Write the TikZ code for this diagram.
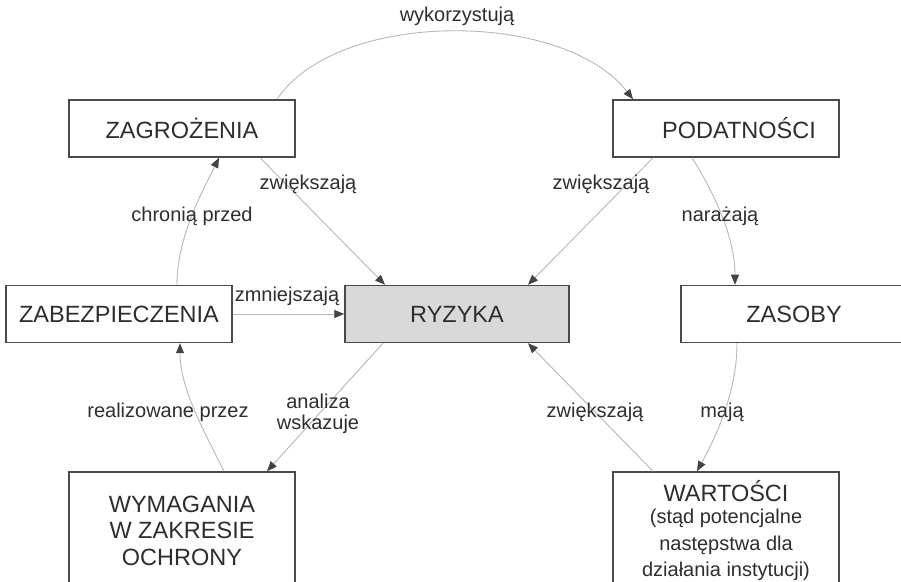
\documentclass[tikz,border=0pt]{standalone}
\usepackage{fontspec}
\setmainfont{Liberation Sans}
\usetikzlibrary{arrows.meta}
\definecolor{txt}{HTML}{2E2E2E}
\definecolor{edge}{HTML}{B8B8B8}
\definecolor{frame}{HTML}{4A4A4A}
\definecolor{riskfill}{HTML}{D9D9D9}
\newcommand{\smallline}{\fontsize{20}{22.5}\selectfont}
\tikzset{
  box/.style={draw=frame, line width=1.5pt, fill=white, inner sep=0pt,
    minimum width=226pt, minimum height=57pt, text=txt, align=center,
    font=\fontsize{23.5}{26.5}\selectfont},
  tall/.style={box, minimum height=117pt},
  lbl/.style={text=txt, inner sep=0pt, align=center,
    font=\fontsize{20}{21.5}\selectfont},
  conn/.style={draw=edge, line width=0.9pt,
    -{Triangle[length=10pt,width=8pt,color=txt!90]}}
}
\begin{document}
\begin{tikzpicture}[x=1pt,y=1pt]
\useasboundingbox (0,0) rectangle (901,581);
\clip (0,0) rectangle (901,581);
\fill[white] (0,0) rectangle (901,581);

% boxes
\node[box] (zag) at (182,452.5) {ZAGROŻENIA};
\node[box] (pod) at (726,452.5) {\hspace*{26pt}PODATNOŚCI};
\node[box] (zab) at (119,267) {ZABEZPIECZENIA};
\node[box, fill=riskfill, minimum width=224pt] (ryz) at (457,267) {RYZYKA};
\node[box] (zas) at (794,267) {ZASOBY};
\node[tall] (wym) at (182,50.5) {WYMAGANIA\\W ZAKRESIE\\OCHRONY};
\node[tall] (wart) at (726,50.5) {WARTOŚCI\\[-4pt] \smallline(stąd potencjalne\\ \smallline następstwa dla\\ \smallline działania instytucji)};

% connectors
\draw[conn] ([xshift=95pt]zag.north) .. controls +(60,90) and +(-70,90) .. ([xshift=-93pt]pod.north);
\draw[conn] ([xshift=78pt]zag.south) -- ([xshift=-72pt]ryz.north);
\draw[conn] ([xshift=-73pt]pod.south) -- ([xshift=71pt]ryz.north);
\draw[conn] ([xshift=-34pt]pod.south) .. controls +(25,-40) and +(0,45) .. ([xshift=-59pt]zas.north);
\draw[conn] ([xshift=-57pt]zas.south) .. controls +(0,-45) and +(22,40) .. ([xshift=-29pt]wart.north);
\draw[conn] ([xshift=-73pt]wart.north) -- ([xshift=71pt]ryz.south);
\draw[conn] ([xshift=-74pt]ryz.south) -- ([xshift=85pt]wym.north);
\draw[conn] ([xshift=42pt]wym.north) .. controls +(-20,40) and +(0,-45) .. ([xshift=61pt]zab.south);
\draw[conn] ([xshift=58pt]zab.north) .. controls +(0,45) and +(-20,-40) .. ([xshift=37pt]zag.south);
\draw[conn] (zab.east) -- (ryz.west);

% labels
\node[lbl] (l1) at (457,565) {wykorzystują};
\node[lbl] (l2) at (308,397) {zwiększają};
\node[lbl] (l3) at (601,397) {zwiększają};
\node[lbl] (l4) at (192,365) {chronią przed};
\node[lbl] (l5) at (720,365) {narażają};
\node[lbl] (l6) at (287,285) {zmniejszają};
\node[lbl] (l7) at (168,169) {realizowane przez};
\node[lbl] (l8) at (318,167) {analiza\\wskazuje};
\node[lbl] (l9) at (595,169) {zwiększają};
\node[lbl] (l10) at (722,169) {mają};
\end{tikzpicture}
\end{document}
